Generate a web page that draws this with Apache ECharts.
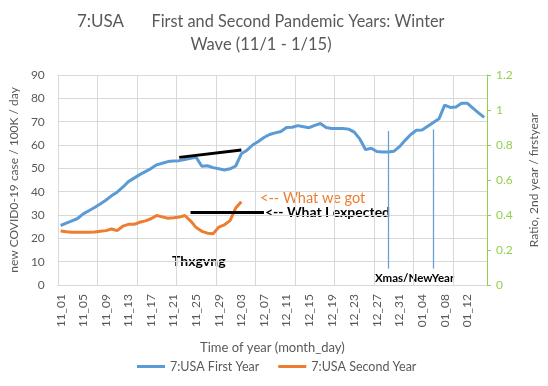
<!DOCTYPE html>
<html>
<head>
<meta charset="utf-8">
<script src="https://cdn.jsdelivr.net/npm/echarts@6/dist/echarts.min.js"></script>
<style>html,body{margin:0;padding:0;background:#fff}#c{width:548px;height:386px}</style>
</head>
<body>
<div id="c"></div>
<script>
var categories = ["11_01","11_02","11_03","11_04","11_05","11_06","11_07","11_08","11_09","11_10",
"11_11","11_12","11_13","11_14","11_15","11_16","11_17","11_18","11_19","11_20",
"11_21","11_22","11_23","11_24","11_25","11_26","11_27","11_28","11_29","11_30",
"12_01","12_02","12_03","12_04","12_05","12_06","12_07","12_08","12_09","12_10",
"12_11","12_12","12_13","12_14","12_15","12_16","12_17","12_18","12_19","12_20",
"12_21","12_22","12_23","12_24","12_25","12_26","12_27","12_28","12_29","12_30",
"12_31","01_01","01_02","01_03","01_04","01_05","01_06","01_07","01_08","01_09",
"01_10","01_11","01_12","01_13","01_14","01_15"];

var firstYear = [25.5,26.5,27.5,28.5,30.5,31.8,33.2,34.7,36.3,38.2,
39.8,41.9,44.3,45.8,47.3,48.6,49.9,51.5,52.2,52.9,
53.1,53.3,53.8,54.3,54.7,50.9,51.1,50.3,49.8,49.3,
49.8,51.0,56.2,57.8,60.0,61.5,63.2,64.5,65.2,65.8,
67.5,67.6,68.3,67.8,67.4,68.4,69.2,67.5,67.1,67.1,
67.1,66.8,65.5,62.5,58.0,58.6,57.2,57.0,57.0,57.3,
59.3,62.0,64.5,66.3,66.4,68.0,69.6,71.2,77.1,76.1,
76.3,77.9,77.9,75.8,73.8,71.8];

var secondYear = [23.1,22.8,22.6,22.6,22.6,22.6,22.7,23.0,23.3,24.0,
23.3,25.2,26.0,26.0,26.9,27.5,28.4,29.8,29.2,28.6,
28.8,29.1,29.8,27.5,24.6,23.0,22.2,22.0,24.8,25.8,
27.6,33.0,35.7];

var leftTicks = {min: 0, max: 90, interval: 10};
var rightTicks = {min: 0, max: 1.2, interval: 0.2};

// annotation lines drawn on the chart (category index, value)
var expectedTrend1 = [[21, 54.7], [32, 57.9]];
var expectedTrend2 = [[23, 31], [36, 31]];
var holidayMarks = [[58, 66, 7], [66, 66.7, 7]];

var chart = echarts.init(document.getElementById('c'), null, {renderer: 'canvas'});
var font = 'Lato, "Open Sans", sans-serif';
var grey = '#595959';
var green = '#92D050';

function seg(p, color, w) {
  return [
    {coord: [categories[p[0][0]], p[0][1]], lineStyle: {color: color, width: w, type: 'solid'}},
    {coord: [categories[p[1][0]], p[1][1]]}
  ];
}
var markData = [
  seg(expectedTrend1, '#000', 3),
  seg(expectedTrend2, '#000', 3)
];
holidayMarks.forEach(function (h) {
  markData.push([
    {coord: [categories[h[0]], h[1]], lineStyle: {color: '#6a9fd3', width: 1.3, type: 'solid'}},
    {coord: [categories[h[0]], h[2]]}
  ]);
});

chart.setOption({
  animation: false,
  textStyle: {fontFamily: font},
  grid: {left: 50, right: 56, top: 75, bottom: 101, containLabel: false},
  legend: {
    bottom: 8, left: 132, itemGap: 19, itemWidth: 28, itemHeight: 3, icon: 'rect',
    textStyle: {fontFamily: font, fontSize: 12.5, color: grey},
    data: ['7:USA First Year', '7:USA Second Year']
  },
  xAxis: {
    type: 'category', data: categories, boundaryGap: true,
    name: 'Time of year (month_day)', nameLocation: 'middle', nameGap: 56,
    nameTextStyle: {fontFamily: font, fontSize: 13, color: grey},
    axisLine: {show: true, lineStyle: {color: '#d9d9d9'}},
    axisTick: {show: false},
    axisLabel: {interval: 3, rotate: 90, margin: 9, fontFamily: font, fontSize: 12, color: grey},
    splitLine: {show: true, interval: 6, lineStyle: {color: '#d9d9d9', width: 1}}
  },
  yAxis: [{
    type: 'value', min: leftTicks.min, max: leftTicks.max, interval: leftTicks.interval,
    name: 'new COVID0-19 case / 100K / day', nameLocation: 'middle', nameGap: 35, nameRotate: 90,
    nameTextStyle: {fontFamily: font, fontSize: 12, color: grey},
    axisLine: {show: true, lineStyle: {color: '#d9d9d9'}},
    axisTick: {show: false},
    axisLabel: {margin: 13, fontFamily: font, fontSize: 12, color: grey},
    splitLine: {show: true, lineStyle: {color: '#d9d9d9', width: 1}}
  }, {
    type: 'value', position: 'right', min: rightTicks.min, max: rightTicks.max, interval: rightTicks.interval,
    name: 'Ratio, 2nd year / firstyear', nameLocation: 'middle', nameGap: 41, nameRotate: 90,
    nameTextStyle: {fontFamily: font, fontSize: 12, color: grey},
    axisLine: {show: true, lineStyle: {color: green}},
    axisTick: {show: true, length: 4, lineStyle: {color: green}},
    axisLabel: {margin: 9, fontFamily: font, fontSize: 12, color: green,
      formatter: function (v) { return String(Math.round(v * 10) / 10); }},
    splitLine: {show: false}
  }],
  series: [{
    name: '7:USA First Year', type: 'line', data: firstYear, yAxisIndex: 0,
    symbol: 'none', smooth: false,
    lineStyle: {color: '#5B9BD5', width: 3}, itemStyle: {color: '#5B9BD5'},
    markLine: {silent: true, symbol: ['none', 'none'], label: {show: false}, data: markData}
  }, {
    name: '7:USA Second Year', type: 'line', data: secondYear, yAxisIndex: 0,
    symbol: 'none', smooth: false,
    lineStyle: {color: '#ED7D31', width: 3}, itemStyle: {color: '#ED7D31'}
  }],
  graphic: [
    {type: 'text', x: 77, y: 22, style: {text: '7:USA', fill: grey, font: '17px ' + font, textVerticalAlign: 'middle'}},
    {type: 'text', x: 298, y: 22, style: {text: 'First and Second Pandemic Years: Winter', fill: grey, font: '16.3px ' + font, textAlign: 'center', textVerticalAlign: 'middle'}},
    {type: 'text', x: 261, y: 45, style: {text: 'Wave (11/1 - 1/15)', fill: grey, font: '16.5px ' + font, textAlign: 'center', textVerticalAlign: 'middle'}},
    {type: 'text', left: 260, top: 191, style: {text: '<-- What we got', fill: '#ED7D31', font: '14.5px ' + font}},
    {type: 'text', left: 265, top: 205, style: {text: '<-- What I expected', fill: '#000', font: 'bold 14px ' + font}},
    {type: 'text', left: 172, top: 254, style: {text: 'Thxgvng', fill: '#000', font: 'bold 14px ' + font}},
    {type: 'text', left: 375, top: 272, style: {text: 'Xmas/NewYear', fill: '#000', font: 'bold 11.5px ' + font}}
  ]
});
</script>
</body>
</html>
